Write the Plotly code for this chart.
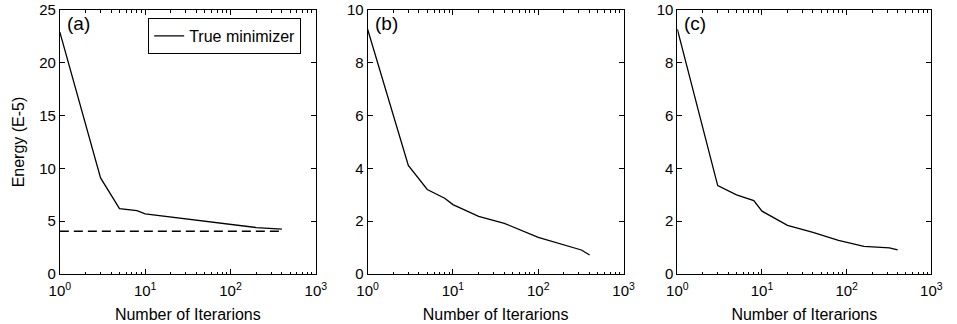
import plotly.graph_objects as go

# ---- data ----
iters_a = [1, 3, 5, 8, 10, 20, 100, 200, 400]
energy_a = [22.9, 9.1, 6.2, 6.0, 5.7, 5.4, 4.75, 4.4, 4.25]
true_min_x = [1, 400]
true_min_y = [4.05, 4.05]

iters_b = [1, 3, 5, 8, 10, 20, 40, 80, 100, 320, 400]
energy_b = [9.27, 4.11, 3.2, 2.87, 2.63, 2.18, 1.92, 1.52, 1.39, 0.91, 0.72]

iters_c = [1, 3, 5, 8, 10, 20, 40, 80, 160, 320, 400]
energy_c = [9.27, 3.35, 3.0, 2.78, 2.38, 1.84, 1.58, 1.27, 1.05, 0.99, 0.91]

panel_labels = ["(a)", "(b)", "(c)"]
x_tick_alias = {"1": "10<sup>0</sup>", "10": "10<sup>1</sup>",
                "100": "10<sup>2</sup>", "1000": "10<sup>3</sup>"}
x_minor_ticks = [2, 3, 4, 5, 6, 7, 8, 9,
                 20, 30, 40, 50, 60, 70, 80, 90,
                 200, 300, 400, 500, 600, 700, 800, 900]
x_title = "Number of Iterarions"
y_title = "Energy (E-5)"
legend_name = "True minimizer"

FONT = "Liberation Sans, Arial, Helvetica, sans-serif"
line = dict(color="black", width=1.3)

fig = go.Figure()
fig.add_trace(go.Scatter(x=iters_a, y=energy_a, mode="lines", line=line,
                         showlegend=False, xaxis="x", yaxis="y"))
fig.add_trace(go.Scatter(x=true_min_x, y=true_min_y, mode="lines",
                         line=dict(color="black", width=1.3, dash="9px,5px"),
                         showlegend=False, xaxis="x", yaxis="y"))
fig.add_trace(go.Scatter(x=[None], y=[None], mode="lines", line=line,
                         name=legend_name, showlegend=True, xaxis="x", yaxis="y"))
fig.add_trace(go.Scatter(x=iters_b, y=energy_b, mode="lines", line=line,
                         showlegend=False, xaxis="x2", yaxis="y2"))
fig.add_trace(go.Scatter(x=iters_c, y=energy_c, mode="lines", line=line,
                         showlegend=False, xaxis="x3", yaxis="y3"))

W = 957.0
domains = [(50 / W, 312 / W), (365 / W, 627 / W), (682 / W, 942 / W)]
yranges = [(0, 25, 5), (0, 10, 2), (0, 10, 2)]

common_x = dict(type="log", range=[0, 3], tickmode="linear", tick0=0, dtick=1,
                labelalias=x_tick_alias, ticklabelstandoff=3,
                ticks="inside", ticklen=5, tickcolor="black", showline=True,
                linecolor="black", linewidth=1, mirror="ticks", showgrid=False,
                zeroline=False, tickfont=dict(family=FONT, size=15, color="black"),
                title=dict(text=x_title, font=dict(family=FONT, size=16, color="black"),
                           standoff=10),
                minor=dict(tickmode="array", tickvals=x_minor_ticks, ticks="inside",
                           ticklen=2.5, tickcolor="black", showgrid=False))

for i, (dom, (y0, y1, dy)) in enumerate(zip(domains, yranges)):
    sfx = "" if i == 0 else str(i + 1)
    xa = dict(common_x, domain=list(dom), anchor="y" + sfx)
    ya = dict(range=[y0, y1], dtick=dy, ticks="inside", ticklen=5, tickcolor="black",
              showline=True, linecolor="black", linewidth=1, mirror="ticks",
              showgrid=False, zeroline=False, anchor="x" + sfx, domain=[0, 1],
              tickfont=dict(family=FONT, size=15, color="black"))
    if i == 0:
        ya["title"] = dict(text=y_title, font=dict(family=FONT, size=16, color="black"),
                           standoff=10)
    fig.layout["xaxis" + sfx] = xa
    fig.layout["yaxis" + sfx] = ya
    fig.add_annotation(text=panel_labels[i], xref=("x" + sfx + " domain"),
                       yref=("y" + sfx + " domain"), x=0.02, y=0.995,
                       xanchor="left", yanchor="top", showarrow=False,
                       font=dict(family=FONT, size=19, color="black"))

fig.update_layout(
    width=957, height=324,
    margin=dict(l=0, r=0, t=10, b=50),
    paper_bgcolor="white", plot_bgcolor="white",
    font=dict(family=FONT, color="black"),
    legend=dict(x=297 / W, y=0.97, xanchor="right", yanchor="top",
                bordercolor="black", borderwidth=1, bgcolor="white",
                font=dict(family=FONT, size=16, color="black"),
                itemwidth=30, tracegroupgap=0),
)

fig.write_html("out.html")
